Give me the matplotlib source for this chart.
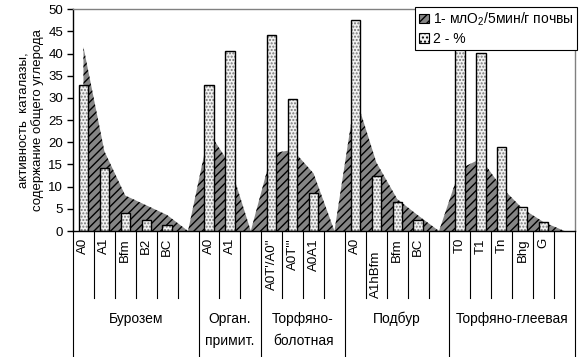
import matplotlib
matplotlib.use('Agg')
import matplotlib.pyplot as plt
import numpy as np
from matplotlib.patches import Patch
from matplotlib.transforms import blended_transform_factory

# ---- data ----
cats = ['A0', 'A1', 'Bfm', 'B2', 'BC', '',
        'A0', 'A1', '',
        "A0T'/A0''", "A0T'''", 'A0A1', '',
        'A0', 'A1hBfm', 'Bfm', 'BC', '',
        'T0', 'T1', 'Tn', 'Bhg', 'G', '']
catalase = [41.5, 18.0, 8.0, 5.8, 3.6, 0,
            22.3, 15.0, 0,
            17.5, 18.3, 13.0, 0,
            30.5, 15.5, 7.2, 3.5, 0,
            14.0, 16.3, 9.8, 5.0, 2.0, 0]
carbon = [33.0, 14.1, 4.1, 2.5, 1.4, None,
          33.0, 40.5, None,
          44.1, 29.7, 8.5, None,
          47.5, 12.3, 6.5, 2.5, None,
          45.0, 40.1, 19.0, 5.3, 2.0, None]
groups = ['Бурозем', 'Орган.\nпримит.', 'Торфяно-\nболотная', 'Подбур', 'Торфяно-глеевая']
group_sizes = [6, 3, 4, 5, 6]
legend_labels = ['1- млО$_2$/5мин/г почвы', '2 - %']
ylabel = 'активность  каталазы,\nсодержание общего углерода'

plt.rcParams['font.family'] = ['Liberation Sans', 'DejaVu Sans']
plt.rcParams['mathtext.fontset'] = 'custom'
plt.rcParams['mathtext.rm'] = 'Liberation Sans'
plt.rcParams['mathtext.it'] = 'Liberation Sans'
plt.rcParams['hatch.linewidth'] = 1.0

W, H = 586, 357
fig = plt.figure(figsize=(W / 100, H / 100), dpi=100)
top_px, bot_px, left_px, right_px = 9.3, 231, 73, 575
ax = fig.add_axes([left_px / W, 1 - bot_px / H, (right_px - left_px) / W, (bot_px - top_px) / H])

n = len(cats)
x = np.arange(n)
ax.set_xlim(-0.5, n - 0.5)
ax.set_ylim(0, 50)

area_face = '#858585'
ax.fill_between(x, catalase, 0, facecolor=area_face, edgecolor='black',
                hatch='////', linewidth=0, zorder=2)

xb = [i for i, v in enumerate(carbon) if v is not None]
hb = [v for v in carbon if v is not None]
bw = 0.45
ax.bar(xb, hb, width=bw, facecolor='#f2f2f2', edgecolor='#777777', hatch='.....',
       linewidth=0, zorder=3)
ax.bar(xb, hb, width=bw, fill=False, edgecolor='black', linewidth=1.0, zorder=4)

for s in ['left', 'bottom']:
    ax.spines[s].set_color('black')
    ax.spines[s].set_linewidth(1.0)
for s in ['top', 'right']:
    ax.spines[s].set_color('#808080')
    ax.spines[s].set_linewidth(1.0)
ax.spines['bottom'].set_zorder(5)

ax.set_yticks(np.arange(0, 51, 5))
ax.tick_params(axis='y', direction='out', length=4, width=1, labelsize=9.5, pad=3)
ax.set_xticks([])

ax.set_ylabel(ylabel, fontsize=9.5, linespacing=1.15)
ax.yaxis.set_label_coords((44 - left_px) / (right_px - left_px), 0.5)

trans = blended_transform_factory(ax.transData, ax.transAxes)
ah = bot_px - top_px
def yax(px):
    return (bot_px - px) / ah

# boundaries
bounds = set([0])
acc = 0
for g in group_sizes:
    acc += g
    bounds.add(acc)
for i in range(0, n + 1):
    xx = i - 0.5
    ybot = yax(H + 2) if i in bounds else yax(298)
    ax.plot([xx, xx], [0, ybot], color='black', lw=0.8, transform=trans, clip_on=False, zorder=1)

# category labels (one label sits at the bottom of its cell, as in the source)
bottom_aligned = {14}
for i, lab in enumerate(cats):
    if not lab:
        continue
    if i in bottom_aligned:
        ax.text(i, yax(298), lab, rotation=90, ha='center', va='bottom',
                fontsize=9.5, transform=trans, clip_on=False)
    else:
        ax.text(i, yax(238), lab, rotation=90, ha='center', va='top',
                fontsize=9.5, transform=trans, clip_on=False)

acc = 0
for g, size in zip(groups, group_sizes):
    c = acc + size / 2 - 0.5
    ax.text(c, yax(312), g, ha='center', va='top', fontsize=10, linespacing=1.7,
            transform=trans, clip_on=False)
    acc += size

handles = [Patch(facecolor=area_face, edgecolor='black', hatch='////', linewidth=0.8),
           Patch(facecolor='#f2f2f2', edgecolor='black', hatch='....', linewidth=0.8)]
leg = fig.legend(handles, legend_labels, loc='upper right',
                 bbox_to_anchor=(577 / W, 1 - 7 / H), bbox_transform=fig.transFigure,
                 frameon=True, fancybox=False, edgecolor='black', framealpha=1,
                 fontsize=10, handlelength=0.7, handleheight=0.7, handletextpad=0.3,
                 borderpad=0.25, labelspacing=0.3, borderaxespad=0)
leg.get_frame().set_linewidth(0.8)

fig.savefig('out.png', dpi=100)
